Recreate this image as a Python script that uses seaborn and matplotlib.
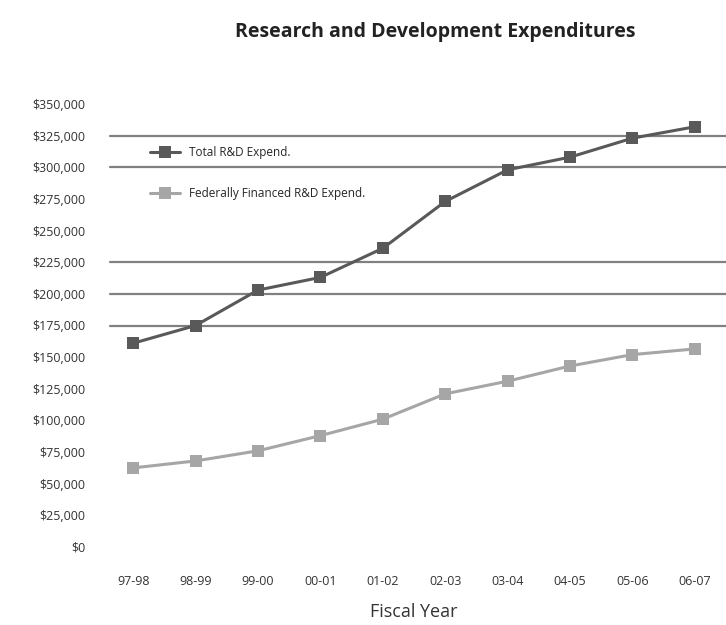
import numpy as np
import pandas as pd
import matplotlib
matplotlib.use("Agg")
import matplotlib.pyplot as plt
import seaborn as sns
from matplotlib.ticker import FuncFormatter

years = ["97-98", "98-99", "99-00", "00-01", "01-02", "02-03", "03-04", "04-05", "05-06", "06-07"]
total = [161000, 175000, 203000, 213000, 236000, 273000, 298000, 308000, 323000, 332000]
federal = [62500, 68000, 76000, 88000, 101000, 121000, 131000, 143000, 152000, 156500]
grid_levels = [175000, 200000, 225000, 300000, 325000]

df = pd.DataFrame({
    "pos": list(range(len(years))) * 2,
    "value": total + federal,
    "series": ["Total R&D Expend."] * len(years) + ["Federally Financed R&D Expend."] * len(years),
})

sns.set_style("white")
plt.rcParams["font.family"] = ["Open Sans", "DejaVu Sans"]

fig = plt.figure(figsize=(7.26, 6.25), dpi=100)
ax = fig.add_axes([102 / 726, 78 / 625, 624 / 726, 443 / 625])

for y in grid_levels:
    ax.axhline(y, xmin=0.013, color="#808080", lw=1.6, zorder=0)

sns.lineplot(data=df, x="pos", y="value", hue="series",
             palette=["#595959", "#a6a6a6"], marker="s", markersize=8,
             markeredgewidth=0, lw=2.2, ax=ax)

ax.set_xlim(-0.5, 9.5)
ax.set_ylim(0, 350000)
ax.set_yticks(np.arange(0, 350001, 25000))
ax.yaxis.set_major_formatter(FuncFormatter(lambda v, p: f"${v:,.0f}"))
ax.set_xticks(range(len(years)))
ax.set_xticklabels(years)
ax.tick_params(axis="both", labelsize=9, colors="#333333", length=0)
ax.tick_params(axis="y", pad=12)
ax.tick_params(axis="x", pad=20)
for s in ax.spines.values():
    s.set_visible(False)

ax.set_xlabel("Fiscal Year", fontsize=13, color="#333333", labelpad=11)
ax.set_ylabel("")
fig.text(0.6, 0.94, "Research and Development Expenditures", ha="center",
         fontsize=14, fontweight="bold", color="#222222")

leg = ax.legend(loc="upper left", bbox_to_anchor=(0.06, 0.93), frameon=False,
                fontsize=8.5, labelspacing=2.4, handlelength=2.5)

fig.savefig("out.png", dpi=100)
